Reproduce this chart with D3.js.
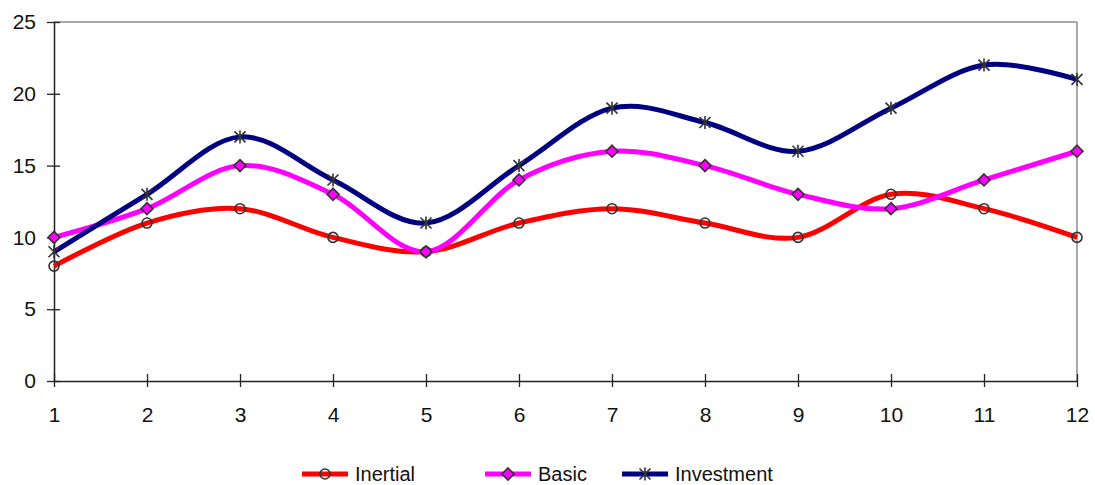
<!DOCTYPE html>
<html><head><meta charset="utf-8">
<script src="https://cdn.jsdelivr.net/npm/d3@7"></script>
<style>body{margin:0;background:#fff}svg{display:block}text{font-family:"Liberation Sans",Arial,sans-serif}</style>
</head><body><svg id="c" width="1095" height="485"></svg>
<script>
const categories = [1,2,3,4,5,6,7,8,9,10,11,12];
const inertial = [8,11,12,10,9,11,12,11,10,13,12,10];
const basic = [10,12,15,13,9,14,16,15,13,12,14,16];
const investment = [9,13,17,14,11,15,19,18,16,19,22,21];
const yTicks = [0,5,10,15,20,25];
const seriesNames = ["Inertial","Basic","Investment"];
const colors = ["#ff0000","#ff00ff","#000080"];
const markers = ["circle","diamond","star"];

const svg = d3.select("#c");
const x = d3.scaleLinear().domain([1,12]).range([54,1077]);
const y = d3.scaleLinear().domain([0,25]).range([381,22]);

svg.append("line").attr("x1",54).attr("x2",1077).attr("y1",y(25)).attr("y2",y(25)).attr("stroke","#8c8c8c").attr("stroke-width",1.5);
svg.append("line").attr("x1",1077).attr("x2",1077).attr("y1",y(25)).attr("y2",y(0)).attr("stroke","#8c8c8c").attr("stroke-width",1.5);

const ya = svg.append("g").attr("transform","translate(54,0)")
  .call(d3.axisLeft(y).tickValues(yTicks).tickSize(7).tickSizeOuter(0).tickPadding(11));
ya.selectAll(".tick line").attr("x2",6).attr("x1",-7);
const xa = svg.append("g").attr("transform",`translate(0,${y(0)})`)
  .call(d3.axisBottom(x).tickValues(categories).tickSize(6).tickSizeOuter(0).tickPadding(20));
xa.selectAll(".tick line").attr("y1",-7).attr("y2",6);
svg.selectAll(".domain").attr("stroke","#222").attr("stroke-width",1.5);
svg.selectAll(".tick line").attr("stroke","#222").attr("stroke-width",1.3);
svg.selectAll("g").attr("font-size",null);
svg.selectAll(".tick text").style("font-size","21px").attr("fill","#111").style("font-family","Liberation Sans, Arial, sans-serif");

const line = d3.line().x((d,i)=>x(categories[i])).y(d=>y(d)).curve(d3.curveCardinal.tension(0));
const data = [inertial,basic,investment];

function drawMarker(g, type, cx, cy, color){
  if(type==="circle"){
    g.append("circle").attr("cx",cx).attr("cy",cy).attr("r",5).attr("fill","none").attr("stroke","#333").attr("stroke-width",1.6);
  } else if(type==="diamond"){
    const s=6;
    g.append("path").attr("d",`M${cx},${cy-s}L${cx+s},${cy}L${cx},${cy+s}L${cx-s},${cy}Z`).attr("fill",color).attr("stroke","#333").attr("stroke-width",1.6);
  } else {
    const s=5.5;
    g.append("path").attr("d",`M${cx-s},${cy-s}L${cx+s},${cy+s}M${cx-s},${cy+s}L${cx+s},${cy-s}M${cx},${cy-s-1}L${cx},${cy+s+1}`).attr("stroke","#333").attr("stroke-width",1.6).attr("fill","none");
  }
}

data.forEach((vals,k)=>{
  svg.append("path").datum(vals).attr("d",line).attr("fill","none").attr("stroke",colors[k]).attr("stroke-width",5).attr("stroke-linejoin","round");
});
data.forEach((vals,k)=>{
  const g = svg.append("g");
  vals.forEach((v,i)=>drawMarker(g, markers[k], x(categories[i]), y(v), colors[k]));
});

const legX = [302,485,622];
seriesNames.forEach((n,k)=>{
  const g = svg.append("g");
  const ly = 474;
  g.append("line").attr("x1",legX[k]).attr("x2",legX[k]+46).attr("y1",ly).attr("y2",ly).attr("stroke",colors[k]).attr("stroke-width",5);
  drawMarker(g, markers[k], legX[k]+23, ly, colors[k]);
  g.append("text").attr("x",legX[k]+53).attr("y",ly+7).style("font-size","20px").attr("fill","#111").text(n);
});
</script></body></html>
